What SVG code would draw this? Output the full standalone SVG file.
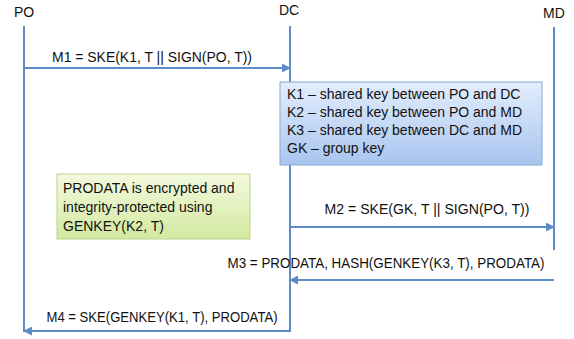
<svg xmlns="http://www.w3.org/2000/svg" width="574" height="339" viewBox="0 0 574 339">
<style>
text{font-family:"Liberation Sans",Arial,sans-serif;font-size:14px;fill:#111}
.life{stroke:#5b8cc8;stroke-width:2;fill:none}
.msg{stroke:#5b8cc8;stroke-width:2;fill:none;marker-end:url(#ah)}
</style>
<defs>
<marker id="ah" viewBox="0 0 10 10" refX="9" refY="5" markerWidth="4.5" markerHeight="4.5" orient="auto" markerUnits="strokeWidth">
<path d="M0,0 L10,5 L0,10 z" fill="#5b8cc8"/>
</marker>
<linearGradient id="gb" x1="0" y1="0" x2="0" y2="1">
<stop offset="0" stop-color="#e3edfc"/>
<stop offset="1" stop-color="#a8c5ef"/>
</linearGradient>
<linearGradient id="gg" x1="0" y1="0" x2="0" y2="1">
<stop offset="0" stop-color="#f3f9de"/>
<stop offset="1" stop-color="#d3e9a0"/>
</linearGradient>
</defs>
<g id="PO">
<text x="24" y="17" text-anchor="middle">PO</text>
<line class="life" x1="24" y1="26" x2="24" y2="332"/>
</g>
<g id="DC">
<text x="289" y="15" text-anchor="middle">DC</text>
<line class="life" x1="290" y1="26" x2="290" y2="332"/>
</g>
<g id="MD">
<text x="554" y="18" text-anchor="middle">MD</text>
<line class="life" x1="554" y1="27" x2="554" y2="250"/>
</g>
<g id="connectors">
<line class="msg" x1="24" y1="68" x2="290" y2="68"/>
<text x="152" y="62" text-anchor="middle" textLength="200" lengthAdjust="spacingAndGlyphs">M1 = SKE(K1, T || SIGN(PO, T))</text>
<line class="msg" x1="290" y1="227" x2="554" y2="227"/>
<text x="427" y="214" text-anchor="middle" textLength="205" lengthAdjust="spacingAndGlyphs">M2 = SKE(GK, T || SIGN(PO, T))</text>
<polyline class="msg" points="554,280 290,280"/>
<text x="386" y="268" text-anchor="middle" textLength="317" lengthAdjust="spacingAndGlyphs">M3 = PRODATA, HASH(GENKEY(K3, T), PRODATA)</text>
<polyline class="msg" points="290,331 24,331"/>
<text x="162" y="322" text-anchor="middle" textLength="231" lengthAdjust="spacingAndGlyphs">M4 = SKE(GENKEY(K1, T), PRODATA)</text>
</g>
<g id="keys">
<rect x="280" y="82" width="262" height="83" fill="url(#gb)" stroke="#86a9d8" stroke-width="1"/>
<text x="287" y="99">K1 – shared key between PO and DC</text>
<text x="287" y="117">K2 – shared key between PO and MD</text>
<text x="287" y="135">K3 – shared key between DC and MD</text>
<text x="287" y="153">GK – group key</text>
</g>
<g id="note">
<rect x="57" y="174" width="193" height="65" fill="url(#gg)" stroke="#bcd48a" stroke-width="1"/>
<text x="63" y="193">PRODATA is encrypted and</text>
<text x="63" y="212">integrity-protected using</text>
<text x="63" y="231">GENKEY(K2, T)</text>
</g>
</svg>
